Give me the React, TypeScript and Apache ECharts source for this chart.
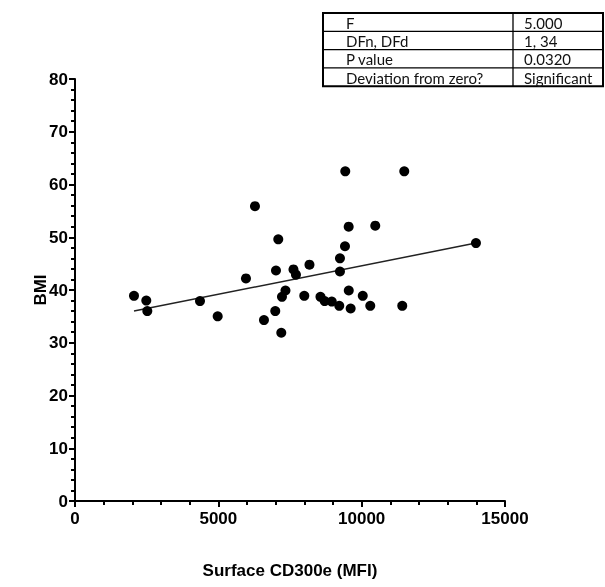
import React, { useEffect, useRef } from "react";
import * as echarts from "echarts";

const xValues = [2058, 2487, 2522, 4360, 4977, 5964, 6278, 6592, 6986, 7011, 7091, 7196, 7220, 7342, 7621, 7708, 7998, 8179, 8563, 8709, 8957, 9219, 9243, 9243, 9418, 9428, 9547, 9550, 9616, 10038, 10300, 10474, 11416, 11486, 13987];
const bmiValues = [38.9, 38.0, 36.0, 37.9, 35.0, 42.2, 55.9, 34.3, 36.0, 43.7, 49.6, 31.9, 38.7, 39.9, 43.9, 42.9, 38.9, 44.8, 38.7, 37.9, 37.8, 37.0, 43.5, 46.0, 48.3, 62.5, 52.0, 39.9, 36.5, 38.9, 37.0, 52.2, 37.0, 62.5, 48.9];
const fitX = [2058, 13987];
const fitY = [36.0, 48.9];
const tableLabels = ["F", "DFn, DFd", "P value", "Deviation from zero?"];
const tableValues = ["5.000", "1, 34", "0.0320", "Significant"];
const xTitle = "Surface CD300e (MFI)";
const yTitle = "BMI";

export default function App() {
  const ref = useRef<HTMLDivElement>(null);
  useEffect(() => {
    if (!ref.current) return;
    const chart = echarts.init(ref.current, null, { renderer: "svg" });
    const axisFont = { fontFamily: "Liberation Sans", fontWeight: "bold" as const, fontSize: 17, color: "#000" };

    const tLeft = 323, tMid = 513, tRight = 603, tTop = 13, rowH = 18.3;
    const tableEls: any[] = [];
    tableEls.push({
      type: "rect",
      shape: { x: tLeft, y: tTop, width: tRight - tLeft, height: rowH * tableLabels.length },
      style: { fill: "#fff", stroke: "#000", lineWidth: 2 },
    });
    tableEls.push({
      type: "line",
      shape: { x1: tMid, y1: tTop, x2: tMid, y2: tTop + rowH * tableLabels.length },
      style: { stroke: "#000", lineWidth: 1.3 },
    });
    tableLabels.forEach((lab, i) => {
      if (i > 0) {
        tableEls.push({
          type: "line",
          shape: { x1: tLeft, y1: tTop + rowH * i, x2: tRight, y2: tTop + rowH * i },
          style: { stroke: "#000", lineWidth: 1.3 },
        });
      }
      const cy = tTop + rowH * i + rowH / 2 + 0.5;
      tableEls.push({
        type: "text",
        x: 346, y: cy,
        style: { text: lab, fontFamily: "Lato", fontSize: 15, fill: "#111", verticalAlign: "middle", align: "left" },
      });
      tableEls.push({
        type: "text",
        x: 524, y: cy,
        style: { text: tableValues[i], fontFamily: "Lato", fontSize: 15, fill: "#111", verticalAlign: "middle", align: "left" },
      });
    });

    chart.setOption({
      animation: false,
      grid: { left: 75, right: 100, top: 79, bottom: 86, containLabel: false },
      xAxis: {
        type: "value",
        min: 0,
        max: 15000,
        interval: 5000,
        name: xTitle,
        nameLocation: "middle",
        nameGap: 61,
        nameMoveOverlap: false,
        nameTextStyle: { ...axisFont, fontSize: 17 },
        axisLine: { show: true, onZero: false, lineStyle: { color: "#000", width: 2 } },
        axisTick: { show: true, length: 6, lineStyle: { color: "#000", width: 2 } },
        minorTick: { show: true, splitNumber: 5, length: 4, lineStyle: { color: "#000", width: 2 } },
        axisLabel: { ...axisFont, margin: 9, formatter: (v: number) => String(v) },
        splitLine: { show: false },
      },
      yAxis: {
        type: "value",
        min: 0,
        max: 80,
        interval: 10,
        name: yTitle,
        nameLocation: "middle",
        nameGap: 26,
        nameMoveOverlap: false,
        nameTextStyle: { ...axisFont, fontSize: 17 },
        axisLine: { show: true, onZero: false, lineStyle: { color: "#000", width: 2 } },
        axisTick: { show: true, length: 6, lineStyle: { color: "#000", width: 2 } },
        minorTick: { show: true, splitNumber: 5, length: 4, lineStyle: { color: "#000", width: 2 } },
        axisLabel: { ...axisFont, margin: 7 },
        splitLine: { show: false },
      },
      series: [
        {
          type: "line",
          data: fitX.map((x, i) => [x, fitY[i]]),
          showSymbol: false,
          symbol: "none",
          lineStyle: { color: "#222", width: 1.5 },
          z: 2,
        },
        {
          type: "scatter",
          data: xValues.map((x, i) => [x, bmiValues[i]]),
          symbol: "circle",
          symbolSize: 10,
          itemStyle: { color: "#000", opacity: 1 },
          z: 3,
        },
      ],
      graphic: tableEls,
    });
    return () => chart.dispose();
  }, []);
  return <div ref={ref} style={{ position: "fixed", left: 0, top: 0, width: 605, height: 587 }} />;
}
